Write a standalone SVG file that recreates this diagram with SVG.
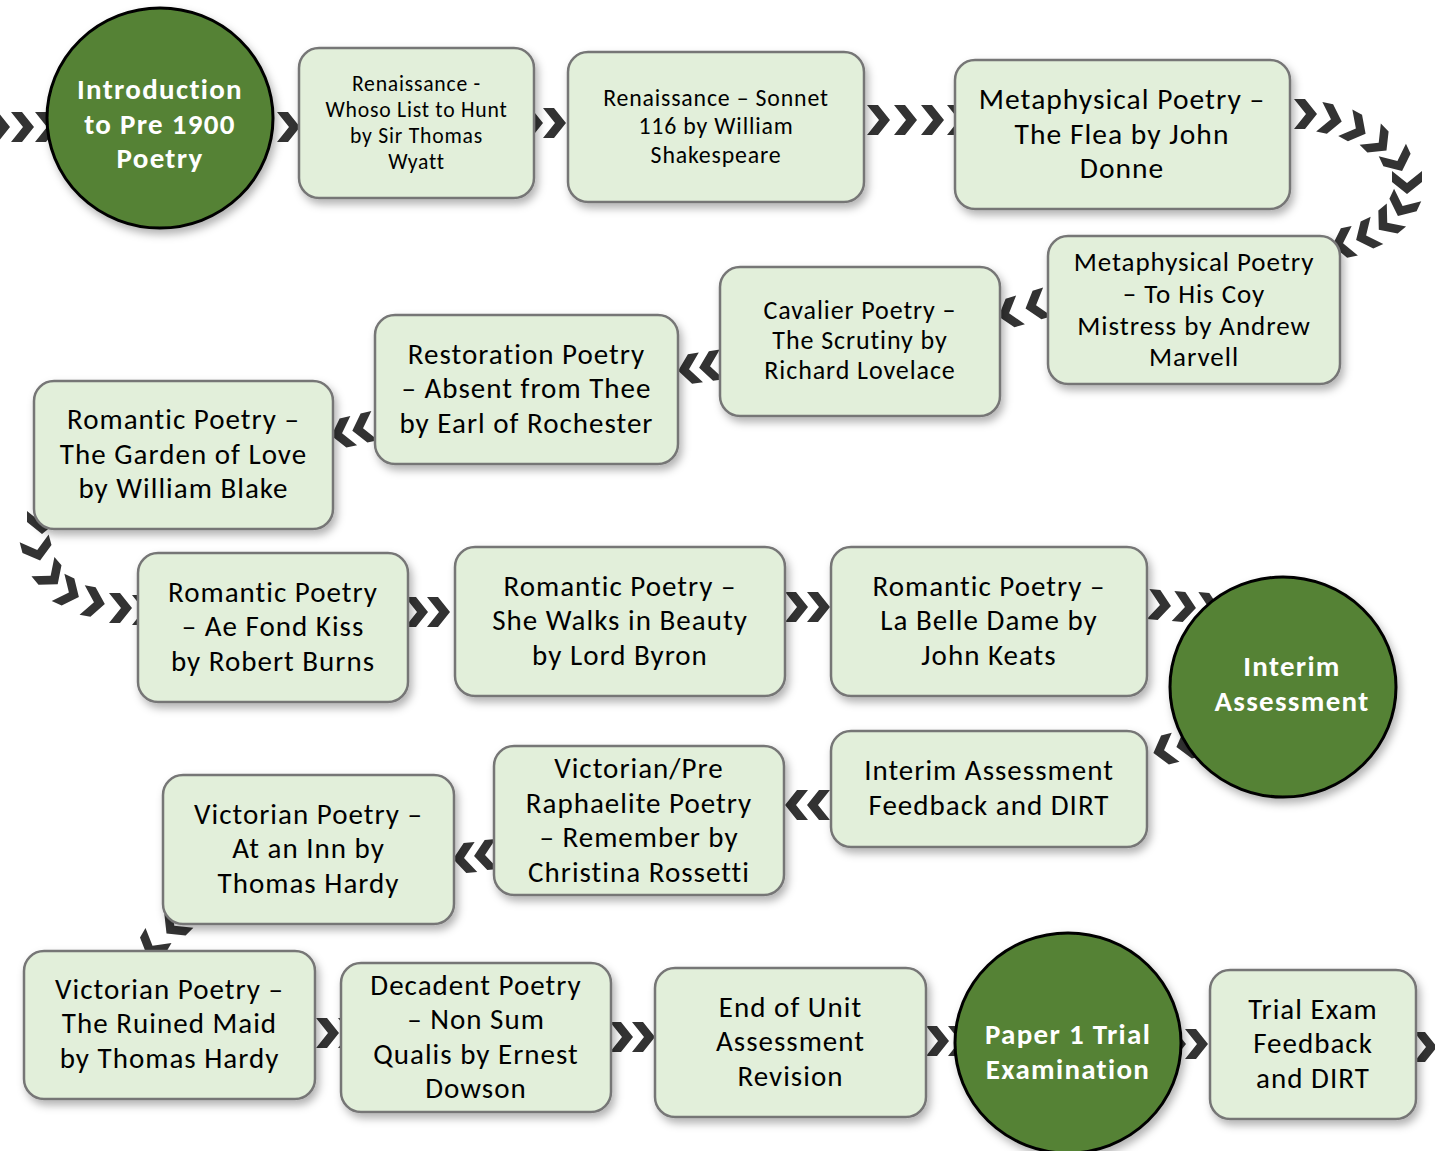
<svg xmlns="http://www.w3.org/2000/svg" xmlns:xlink="http://www.w3.org/1999/xlink" width="1435" height="1151" viewBox="0 0 1435 1151">
<style>
.box{fill:#e2efda;stroke:#767676;stroke-width:2.5}
.circ{fill:#548235;stroke:#000;stroke-width:3}
.t{font-family:Carlito,Calibri,Lato,"Liberation Sans",sans-serif;fill:#000;text-anchor:middle;letter-spacing:0.035em}
.ct{font-family:Carlito,Calibri,Lato,"Liberation Sans",sans-serif;fill:#fff;font-weight:bold;text-anchor:middle;font-size:29px;letter-spacing:0.045em}
.chev{fill:#333}
</style>
<defs>
<path id="chev" d="M-11,-15 L0,-15 L12,0 L0,15 L-11,15 L1,0 Z"/>
<filter id="sh" x="-10%" y="-10%" width="125%" height="130%">
<feDropShadow dx="3" dy="5" stdDeviation="4" flood-color="#000" flood-opacity="0.3"/>
</filter>
</defs>
<rect width="1435" height="1151" fill="#fff"/>
<g id="connectors" class="chev">
<use href="#chev" transform="translate(-2,127)"/>
<use href="#chev" transform="translate(22,127)"/>
<use href="#chev" transform="translate(46,127)"/>
<use href="#chev" transform="translate(288,127)"/>
<use href="#chev" transform="translate(531,123)"/>
<use href="#chev" transform="translate(554,123)"/>
<use href="#chev" transform="translate(878,120)"/>
<use href="#chev" transform="translate(905,120)"/>
<use href="#chev" transform="translate(932,120)"/>
<use href="#chev" transform="translate(958,120)"/>
<use href="#chev" transform="translate(1305,114) rotate(0)"/>
<use href="#chev" transform="translate(1330,119) rotate(12)"/>
<use href="#chev" transform="translate(1355,128) rotate(28)"/>
<use href="#chev" transform="translate(1378,142) rotate(45)"/>
<use href="#chev" transform="translate(1397,160) rotate(65)"/>
<use href="#chev" transform="translate(1407,182) rotate(90)"/>
<use href="#chev" transform="translate(1403,205) rotate(115)"/>
<use href="#chev" transform="translate(1388,222) rotate(140)"/>
<use href="#chev" transform="translate(1367,235) rotate(155)"/>
<use href="#chev" transform="translate(1344,243) rotate(168)"/>
<use href="#chev" transform="translate(1010,313) rotate(163)"/>
<use href="#chev" transform="translate(1037,305) rotate(163)"/>
<use href="#chev" transform="translate(690,369) rotate(172)"/>
<use href="#chev" transform="translate(711,366) rotate(172)"/>
<use href="#chev" transform="translate(343,433) rotate(167)"/>
<use href="#chev" transform="translate(364,428) rotate(167)"/>
<use href="#chev" transform="translate(42,522) rotate(90)"/>
<use href="#chev" transform="translate(37,549) rotate(75)"/>
<use href="#chev" transform="translate(50,575) rotate(50)"/>
<use href="#chev" transform="translate(68,592) rotate(25)"/>
<use href="#chev" transform="translate(93,602) rotate(10)"/>
<use href="#chev" transform="translate(120,608)"/>
<use href="#chev" transform="translate(143,610)"/>
<use href="#chev" transform="translate(416,612)"/>
<use href="#chev" transform="translate(438,612)"/>
<use href="#chev" transform="translate(796,607)"/>
<use href="#chev" transform="translate(818,607)"/>
<use href="#chev" transform="translate(1159,605) rotate(5)"/>
<use href="#chev" transform="translate(1184,607) rotate(5)"/>
<use href="#chev" transform="translate(1208,608) rotate(5)"/>
<use href="#chev" transform="translate(1165,750) rotate(165)"/>
<use href="#chev" transform="translate(1188,744) rotate(165)"/>
<use href="#chev" transform="translate(797,805) rotate(180)"/>
<use href="#chev" transform="translate(819,805) rotate(180)"/>
<use href="#chev" transform="translate(465,858) rotate(175)"/>
<use href="#chev" transform="translate(486,855) rotate(175)"/>
<use href="#chev" transform="translate(175,925) rotate(135)"/>
<use href="#chev" transform="translate(153,945) rotate(120)"/>
<use href="#chev" transform="translate(327,1033)"/>
<use href="#chev" transform="translate(349,1033)"/>
<use href="#chev" transform="translate(621,1037)"/>
<use href="#chev" transform="translate(643,1037)"/>
<use href="#chev" transform="translate(937,1041)"/>
<use href="#chev" transform="translate(959,1041)"/>
<use href="#chev" transform="translate(1174,1044)"/>
<use href="#chev" transform="translate(1196,1044)"/>
<use href="#chev" transform="translate(1425,1047)"/>
</g>

<g id="n1"><ellipse class="circ" cx="160" cy="118" rx="113" ry="110" filter="url(#sh)"/>
<text class="ct"><tspan x="160" y="99">Introduction</tspan><tspan x="160" y="134">to Pre 1900</tspan><tspan x="160" y="168">Poetry</tspan></text></g>

<g id="n2"><rect class="box" x="299" y="48" width="235" height="150" rx="20" filter="url(#sh)"/>
<text class="t" font-size="21.7"><tspan x="416.5" y="91">Renaissance -</tspan><tspan x="416.5" y="117">Whoso List to Hunt</tspan><tspan x="416.5" y="143">by Sir Thomas</tspan><tspan x="416.5" y="169">Wyatt</tspan></text></g>

<g id="n3"><rect class="box" x="568" y="52" width="296" height="150" rx="20" filter="url(#sh)"/>
<text class="t" font-size="23.8"><tspan x="716" y="106">Renaissance – Sonnet</tspan><tspan x="716" y="134">116 by William</tspan><tspan x="716" y="163">Shakespeare</tspan></text></g>

<g id="n4"><rect class="box" x="955" y="60" width="335" height="149" rx="20" filter="url(#sh)"/>
<text class="t" font-size="29.5"><tspan x="1122" y="109">Metaphysical Poetry –</tspan><tspan x="1122" y="144">The Flea by John</tspan><tspan x="1122" y="178">Donne</tspan></text></g>

<g id="n5"><rect class="box" x="1048" y="236" width="292" height="148" rx="20" filter="url(#sh)"/>
<text class="t" font-size="27"><tspan x="1194" y="271">Metaphysical Poetry</tspan><tspan x="1194" y="303">– To His Coy</tspan><tspan x="1194" y="335">Mistress by Andrew</tspan><tspan x="1194" y="366">Marvell</tspan></text></g>

<g id="n6"><rect class="box" x="720" y="267" width="280" height="149" rx="20" filter="url(#sh)"/>
<text class="t" font-size="26"><tspan x="860" y="319">Cavalier Poetry –</tspan><tspan x="860" y="349">The Scrutiny by</tspan><tspan x="860" y="379">Richard Lovelace</tspan></text></g>

<g id="n7"><rect class="box" x="375" y="315" width="303" height="149" rx="20" filter="url(#sh)"/>
<text class="t" font-size="29"><tspan x="526.5" y="364">Restoration Poetry</tspan><tspan x="526.5" y="398">– Absent from Thee</tspan><tspan x="526.5" y="433">by Earl of Rochester</tspan></text></g>

<g id="n8"><rect class="box" x="34" y="381" width="299" height="148" rx="20" filter="url(#sh)"/>
<text class="t" font-size="29"><tspan x="183.5" y="429">Romantic Poetry –</tspan><tspan x="183.5" y="464">The Garden of Love</tspan><tspan x="183.5" y="498">by William Blake</tspan></text></g>

<g id="n9"><rect class="box" x="138" y="553" width="270" height="149" rx="20" filter="url(#sh)"/>
<text class="t" font-size="29"><tspan x="273" y="602">Romantic Poetry</tspan><tspan x="273" y="636">– Ae Fond Kiss</tspan><tspan x="273" y="671">by Robert Burns</tspan></text></g>

<g id="n10"><rect class="box" x="455" y="547" width="330" height="149" rx="20" filter="url(#sh)"/>
<text class="t" font-size="29"><tspan x="620" y="596">Romantic Poetry –</tspan><tspan x="620" y="630">She Walks in Beauty</tspan><tspan x="620" y="665">by Lord Byron</tspan></text></g>

<g id="n11"><rect class="box" x="831" y="547" width="316" height="149" rx="20" filter="url(#sh)"/>
<text class="t" font-size="29"><tspan x="989" y="596">Romantic Poetry –</tspan><tspan x="989" y="630">La Belle Dame by</tspan><tspan x="989" y="665">John Keats</tspan></text></g>

<g id="n12"><ellipse class="circ" cx="1283" cy="687" rx="113" ry="110" filter="url(#sh)"/>
<text class="ct"><tspan x="1292" y="676">Interim</tspan><tspan x="1292" y="711">Assessment</tspan></text></g>

<g id="n13"><rect class="box" x="831" y="731" width="316" height="116" rx="20" filter="url(#sh)"/>
<text class="t" font-size="29"><tspan x="989" y="780">Interim Assessment</tspan><tspan x="989" y="815">Feedback and DIRT</tspan></text></g>

<g id="n14"><rect class="box" x="494" y="746" width="290" height="149" rx="20" filter="url(#sh)"/>
<text class="t" font-size="29"><tspan x="639" y="778">Victorian/Pre</tspan><tspan x="639" y="813">Raphaelite Poetry</tspan><tspan x="639" y="847">– Remember by</tspan><tspan x="639" y="882">Christina Rossetti</tspan></text></g>

<g id="n15"><rect class="box" x="163" y="775" width="291" height="149" rx="20" filter="url(#sh)"/>
<text class="t" font-size="29"><tspan x="308.5" y="824">Victorian Poetry –</tspan><tspan x="308.5" y="858">At an Inn by</tspan><tspan x="308.5" y="893">Thomas Hardy</tspan></text></g>

<g id="n16"><rect class="box" x="24" y="951" width="291" height="148" rx="20" filter="url(#sh)"/>
<text class="t" font-size="29"><tspan x="169.5" y="999">Victorian Poetry –</tspan><tspan x="169.5" y="1033">The Ruined Maid</tspan><tspan x="169.5" y="1068">by Thomas Hardy</tspan></text></g>

<g id="n17"><rect class="box" x="341" y="963" width="270" height="149" rx="20" filter="url(#sh)"/>
<text class="t" font-size="29"><tspan x="476" y="995">Decadent Poetry</tspan><tspan x="476" y="1029">– Non Sum</tspan><tspan x="476" y="1064">Qualis by Ernest</tspan><tspan x="476" y="1098">Dowson</tspan></text></g>

<g id="n18"><rect class="box" x="655" y="968" width="271" height="149" rx="20" filter="url(#sh)"/>
<text class="t" font-size="29"><tspan x="790.5" y="1017">End of Unit</tspan><tspan x="790.5" y="1051">Assessment</tspan><tspan x="790.5" y="1086">Revision</tspan></text></g>

<g id="n19"><ellipse class="circ" cx="1068" cy="1043" rx="113" ry="110" filter="url(#sh)"/>
<text class="ct"><tspan x="1068" y="1044">Paper 1 Trial</tspan><tspan x="1068" y="1079">Examination</tspan></text></g>

<g id="n20"><rect class="box" x="1210" y="970" width="206" height="149" rx="20" filter="url(#sh)"/>
<text class="t" font-size="29"><tspan x="1313" y="1019">Trial Exam</tspan><tspan x="1313" y="1053">Feedback</tspan><tspan x="1313" y="1088">and DIRT</tspan></text></g>
</svg>
